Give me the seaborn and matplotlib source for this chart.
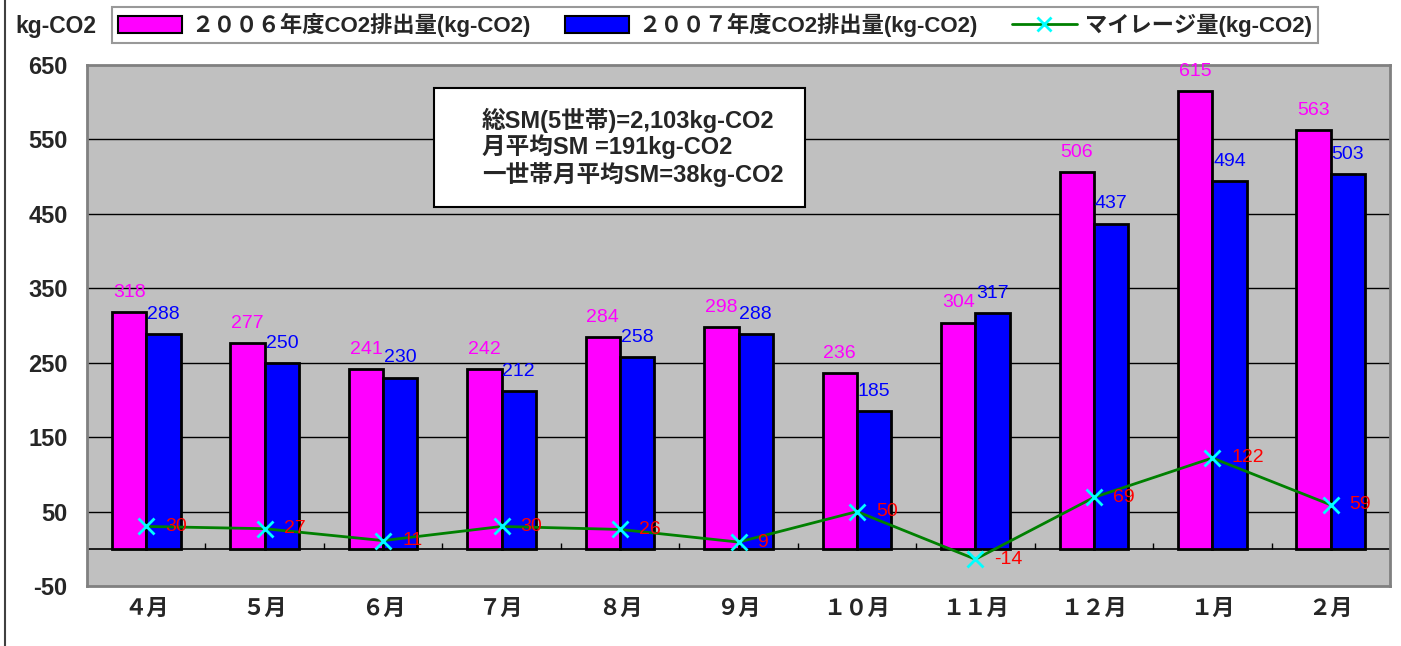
import matplotlib
matplotlib.use("Agg")
import matplotlib.pyplot as plt
import seaborn as sns
import numpy as np
import pandas as pd
from matplotlib.patches import Patch, Rectangle
from matplotlib.lines import Line2D

months = ["４月", "５月", "６月", "７月", "８月", "９月", "１０月", "１１月", "１２月", "１月", "２月"]
co2_2006 = [318, 277, 241, 242, 284, 298, 236, 304, 506, 615, 563]
co2_2007 = [288, 250, 230, 212, 258, 288, 185, 317, 437, 494, 503]
mileage = [30, 27, 11, 30, 26, 9, 50, -14, 69, 122, 59]
series_names = ["２００６年度CO2排出量(kg-CO2)", "２００７年度CO2排出量(kg-CO2)"]
line_name = "マイレージ量(kg-CO2)"
yticks = [-50, 50, 150, 250, 350, 450, 550, 650]
info_lines = ["総SM(5世帯)=2,103kg-CO2", "月平均SM =191kg-CO2", "一世帯月平均SM=38kg-CO2"]

sns.set_style("white")
plt.rcParams['font.family'] = ['Liberation Sans', 'Noto Sans CJK JP', 'DejaVu Sans']

df = pd.DataFrame({
    "month": months * 2,
    "value": co2_2006 + co2_2007,
    "series": [series_names[0]] * len(months) + [series_names[1]] * len(months),
})

fig = plt.figure(figsize=(14.01, 6.46), dpi=100)
ax = fig.add_axes([87 / 1401, 1 - 586 / 646, 1303 / 1401, 521 / 646])
ax.set_facecolor("#C0C0C0")

pal = {series_names[0]: "#FF00FF", series_names[1]: "#0000FF"}
sns.barplot(data=df, x="month", y="value", hue="series", order=months,
            hue_order=series_names, palette=pal, width=0.58, edgecolor="black",
            linewidth=2, saturation=1, ax=ax, legend=False, zorder=3)

label_colors = ["#FF00FF", "#0000FF"]
for cont, col in zip(ax.containers, label_colors):
    ax.bar_label(cont, padding=8, color=col, fontsize=14)

x = np.arange(len(months))
ax.plot(x, mileage, color="green", lw=2, zorder=4)
ax.plot(x, mileage, ls="none", marker="x", ms=11, mew=2, color="#00FFFF", zorder=5)
for xi, v in zip(x, mileage):
    ax.text(xi + 0.16, v, str(v), color="red", fontsize=14, va="center", ha="left", zorder=6)

ax.set_ylim(-50, 650)
ax.set_xlim(-0.5, len(months) - 0.5)
ax.set_yticks(yticks)
ax.set_yticklabels([str(t) for t in yticks], fontsize=17, fontweight="bold")
ax.set_xticks(x)
ax.set_xticklabels(months, fontsize=16, fontweight="bold")
ax.tick_params(axis="x", length=0, pad=9)
ax.tick_params(axis="y", length=0, pad=14)
ax.set_xlabel("")
ax.set_ylabel("")
for t in [50, 150, 250, 350, 450, 550]:
    ax.axhline(t, color="black", lw=1, zorder=1)
ax.axhline(0, color="black", lw=1.2, zorder=2)
ax.vlines(np.arange(len(months) - 1) + 0.5, 0, 8, color="black", lw=1, zorder=2)
for s in ax.spines.values():
    s.set_color("#808080")
    s.set_linewidth(2)

# info box
ax.add_patch(Rectangle((0.266, 0.7275), 0.285, 0.2285, transform=ax.transAxes,
                       facecolor="white", edgecolor="black", lw=1.5, zorder=7))
for yy, line in zip([0.894, 0.843, 0.789], info_lines):
    ax.text(0.303, yy, line, transform=ax.transAxes, fontsize=17, fontweight="bold",
            va="center", ha="left", zorder=8)

# legend
handles = [Patch(facecolor="#FF00FF", edgecolor="black", lw=1.5),
           Patch(facecolor="#0000FF", edgecolor="black", lw=1.5),
           Line2D([0], [0], color="green", lw=2, marker="x", ms=10, mew=2,
                  markerfacecolor="#00FFFF", markeredgecolor="#00FFFF")]
leg = fig.legend(handles, series_names + [line_name], ncol=3, mode="expand",
                 bbox_to_anchor=(112 / 1401, 1 - 45 / 646, 1206 / 1401, 40 / 646),
                 loc="center", frameon=True, fancybox=False, borderaxespad=0,
                 prop={"size": 16, "weight": "bold"}, handlelength=2.9,
                 handleheight=0.8, handletextpad=0.4, borderpad=0.25)
leg.get_frame().set_edgecolor("#808080")
leg.get_frame().set_linewidth(1.5)

fig.text(15 / 1401, 1 - 27 / 646, "kg-CO2", fontsize=16.5, fontweight="bold", va="center", ha="left")
fig.add_artist(Line2D([5 / 1401, 5 / 1401], [0, 1], color="#404040", lw=1.5))

fig.savefig("out.png", dpi=100)
